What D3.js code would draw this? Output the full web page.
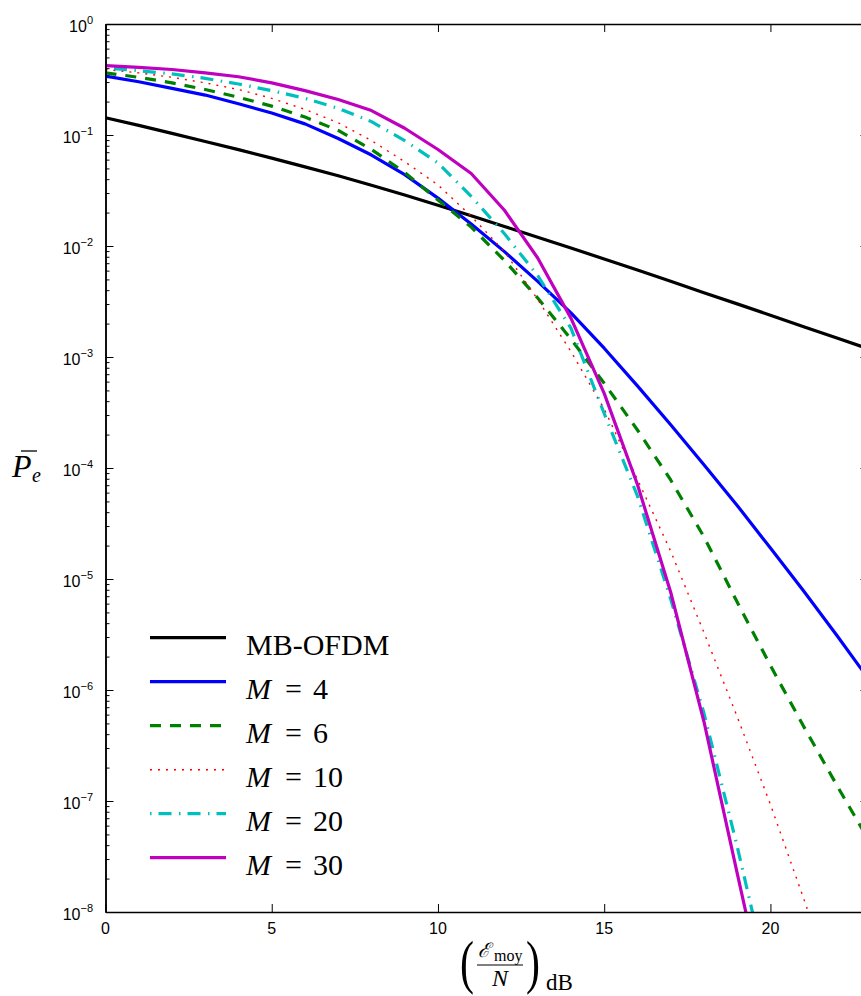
<!DOCTYPE html>
<html><head><meta charset="utf-8">
<script src="https://cdn.jsdelivr.net/npm/d3@7"></script>
<style>body{margin:0;background:#fff}svg{display:block}</style>
</head><body>
<svg id="c" width="861" height="996"></svg>
<script>
// ---------- data ----------
const snrDb = [0,1,2,3,4,5,6,7,8,9,10,11,12,13,14,15,16,17,18,19,20,21,22,23];
const peMbOfdm = [1.43e-1,1.22e-1,1.035e-1,8.75e-2,7.38e-2,6.19e-2,5.16e-2,4.29e-2,3.53e-2,2.88e-2,2.33e-2,1.87e-2,1.50e-2,1.20e-2,9.59e-3,7.64e-3,6.07e-3,4.81e-3,3.80e-3,3.01e-3,2.38e-3,1.87e-3,1.48e-3,1.17e-3];
const peM4  = [3.39e-1,3.02e-1,2.63e-1,2.29e-1,1.91e-1,1.58e-1,1.26e-1,9.3e-2,6.6e-2,4.4e-2,2.7e-2,1.58e-2,8.9e-3,4.8e-3,2.5e-3,1.2e-3,5.5e-4,2.45e-4,1.07e-4,4.6e-5,1.9e-5,7.8e-6,3.1e-6,1.2e-6];
const peM6  = [3.63e-1,3.31e-1,2.95e-1,2.57e-1,2.19e-1,1.82e-1,1.45e-1,1.10e-1,7.4e-2,4.6e-2,2.6e-2,1.48e-2,7.4e-3,3.4e-3,1.45e-3,5.8e-4,2.2e-4,7.8e-5,2.4e-5,6.2e-6,1.66e-6,4.7e-7,1.38e-7,4.2e-8];
const peM10 = [3.89e-1,3.63e-1,3.31e-1,2.95e-1,2.57e-1,2.14e-1,1.70e-1,1.29e-1,8.9e-2,5.75e-2,3.55e-2,1.86e-2,8.9e-3,3.3e-3,1.12e-3,3.4e-4,7.9e-5,1.78e-5,3.3e-6,5.75e-7,9.3e-8,1.32e-8,1.78e-9];
const peM20 = [4.03e-1,3.80e-1,3.55e-1,3.24e-1,2.88e-1,2.51e-1,2.14e-1,1.74e-1,1.32e-1,8.9e-2,5.6e-2,2.8e-2,1.29e-2,5.4e-3,1.82e-3,3.1e-4,5.6e-5,6.6e-6,6.2e-7,3.9e-8,2.0e-9];
const peM30 = [4.22e-1,4.07e-1,3.89e-1,3.63e-1,3.35e-1,2.95e-1,2.51e-1,2.09e-1,1.66e-1,1.15e-1,7.4e-2,4.5e-2,2.1e-2,7.8e-3,2.24e-3,4.7e-4,7.1e-5,7.6e-6,5.2e-7,2.24e-8,1.0e-9];
const seriesNames = ["MB-OFDM","M = 4","M = 6","M = 10","M = 20","M = 30"];
const xTickValues = [0,5,10,15,20];
const yTickExponents = [0,-1,-2,-3,-4,-5,-6,-7,-8];

// ---------- layout ----------
const L = 105.5, R = 868.5, T = 24, B = 912;
const x = d3.scaleLinear().domain([0, 22.95]).range([L, R]);
const y = d3.scaleLog().domain([1e-8, 1]).range([B, T]);

const svg = d3.select("#c");
svg.append("defs").append("clipPath").attr("id","clip")
  .append("rect").attr("x",L).attr("y",T).attr("width",R-L).attr("height",B-T);

const styles = [
  {color:"#000000", width:3.2, dash:null},
  {color:"#0000ff", width:3.2, dash:null},
  {color:"#008000", width:3.2, dash:"11,9"},
  {color:"#ff0000", width:1.4, dash:"2,6"},
  {color:"#00bfbf", width:3.2, dash:"1.5,7,13,7.5"},
  {color:"#bf00bf", width:3.2, dash:null}
];
const allSeries = [peMbOfdm, peM4, peM6, peM10, peM20, peM30];

// ---------- curves ----------
const line = d3.line().x(d => x(d[0])).y(d => y(d[1]));
const g = svg.append("g").attr("clip-path","url(#clip)");
allSeries.forEach((vals, i) => {
  const pts = vals.map((v, k) => [snrDb[k], v]);
  g.append("path").attr("d", line(pts)).attr("fill","none")
   .attr("stroke", styles[i].color).attr("stroke-width", styles[i].width)
   .attr("stroke-dasharray", styles[i].dash).attr("stroke-linejoin","round");
});

// ---------- axes ----------
const minor = [];
for (let e = -8; e < 0; e++) for (let m = 2; m <= 9; m++) minor.push(m * Math.pow(10, e));
const majors = yTickExponents.map(e => Math.pow(10, e));

function styleAxis(sel){
  sel.selectAll(".domain").attr("stroke","#000").attr("stroke-width",1.5);
  sel.selectAll(".tick line").attr("stroke","#000").attr("stroke-width",1);
  sel.selectAll(".tick text").remove();
}
svg.append("g").attr("transform",`translate(0,${B})`)
  .call(d3.axisBottom(x).tickValues(xTickValues).tickSize(-8).tickSizeOuter(0)).call(styleAxis);
svg.append("g").attr("transform",`translate(0,${T})`)
  .call(d3.axisTop(x).tickValues(xTickValues).tickSize(-8).tickSizeOuter(0)).call(styleAxis);
svg.append("g").attr("transform",`translate(${L},0)`)
  .call(d3.axisLeft(y).tickValues(majors).tickSize(-8).tickSizeOuter(0)).call(styleAxis);
svg.append("g").attr("transform",`translate(${L},0)`)
  .call(d3.axisLeft(y).tickValues(minor).tickSize(-4).tickSizeOuter(0)).call(styleAxis);
svg.append("g").attr("transform",`translate(${R},0)`)
  .call(d3.axisRight(y).tickValues(majors).tickSize(-8).tickSizeOuter(0)).call(styleAxis);
svg.append("g").attr("transform",`translate(${R},0)`)
  .call(d3.axisRight(y).tickValues(minor).tickSize(-4).tickSizeOuter(0)).call(styleAxis);

// tick labels
const sans = "'Liberation Sans', Arial, Helvetica, sans-serif";
svg.append("g").selectAll("text").data(xTickValues).join("text")
  .attr("x", d => x(d)).attr("y", B + 22).attr("text-anchor","middle")
  .attr("font-family", sans).attr("font-size", 16).text(d => d);

const yl = svg.append("g").selectAll("text").data(yTickExponents).join("text")
  .attr("x", 93).attr("y", d => y(Math.pow(10, d)) + 8)
  .attr("font-family", sans).attr("font-size", 16).attr("text-anchor","end");
yl.each(function(d){
  const t = d3.select(this);
  t.append("tspan").text("10");
  t.append("tspan").attr("dy", -8).attr("font-size", 11).text(d === 0 ? "0" : "\u2212" + (-d));
});

// ---------- legend ----------
const serif = "'Liberation Serif', 'Times New Roman', serif";
const lg = svg.append("g");
seriesNames.forEach((name, i) => {
  const ly = 637.7 + i * 44;
  lg.append("line").attr("x1",150).attr("x2",226).attr("y1",ly).attr("y2",ly)
    .attr("stroke", styles[i].color).attr("stroke-width", styles[i].width)
    .attr("stroke-dasharray", styles[i].dash);
  const t = lg.append("text").attr("y", ly + 17).attr("font-family", serif).attr("font-size", 30);
  if (i === 0) {
    t.attr("x", 246).text(name);
  } else {
    const parts = name.split(" = ");
    t.append("tspan").attr("x",246).attr("font-style","italic").text(parts[0]);
    t.append("tspan").attr("x",285).text("=");
    t.append("tspan").attr("x",313).text(parts[1]);
  }
});

// ---------- axis titles ----------
// y label  P̄_e
const yt = svg.append("g").attr("font-family", serif);
yt.append("text").attr("x",12).attr("y",477).attr("font-size",32).attr("font-style","italic").text("P");
yt.append("line").attr("x1",21).attr("x2",37).attr("y1",451).attr("y2",451).attr("stroke","#000").attr("stroke-width",1.3);
yt.append("text").attr("x",32).attr("y",482).attr("font-size",20).attr("font-style","italic").text("e");

// x label  ( E_moy / N )_dB
const xt = svg.append("g").attr("font-family", serif);
xt.append("text").attr("transform","translate(460,982) scale(0.7,1)").attr("font-size",60).text("(");
xt.append("text").attr("transform","translate(526,982) scale(0.7,1)").attr("font-size",60).text(")");
xt.append("text").attr("x",478).attr("y",957).attr("font-size",20).attr("font-family","'DejaVu Serif', serif").attr("font-style","italic").text("\u2130");
xt.append("text").attr("x",494).attr("y",961).attr("font-size",16).text("moy");
xt.append("line").attr("x1",477).attr("x2",523).attr("y1",965).attr("y2",965).attr("stroke","#000").attr("stroke-width",1.2);
xt.append("text").attr("x",492).attr("y",986).attr("font-size",24).attr("font-style","italic").text("N");
xt.append("text").attr("x",546).attr("y",990).attr("font-size",23).text("dB");
</script>
</body></html>
